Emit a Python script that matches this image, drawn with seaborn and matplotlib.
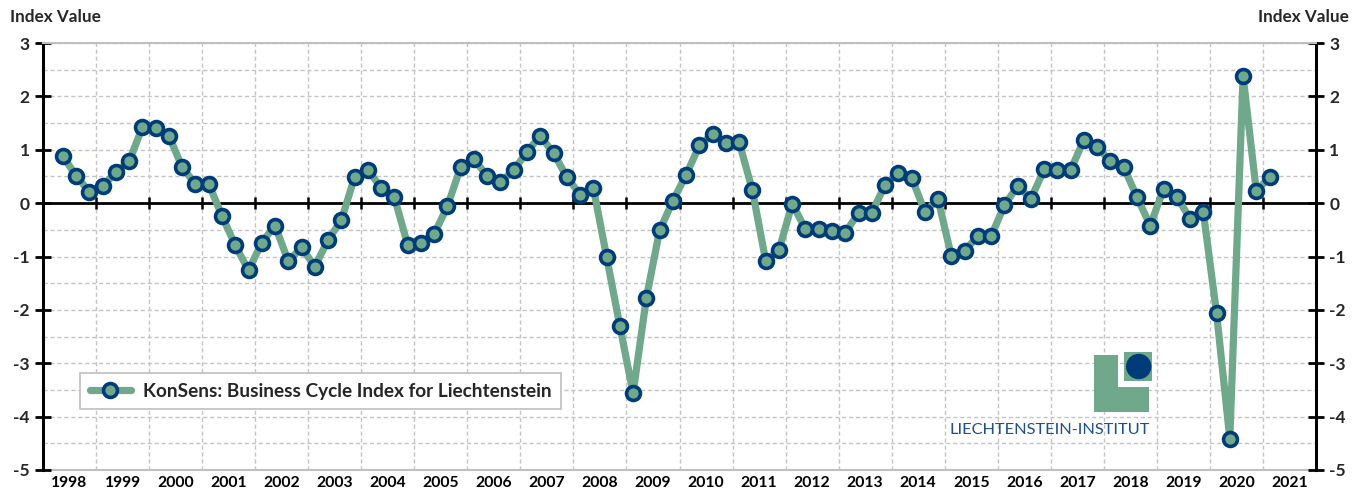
import matplotlib
matplotlib.use("Agg")
import matplotlib.pyplot as plt
from matplotlib.patches import Polygon, Rectangle, Ellipse
from matplotlib.ticker import MultipleLocator, FixedLocator, NullFormatter
import numpy as np
import pandas as pd
import seaborn as sns

# quarterly KonSens index, 1998 Q2 .. 2021 Q1
first_quarter = "1998Q2"
last_quarter = "2021Q1"
konsens = [
    0.88, 0.51, 0.21, 0.32, 0.58, 0.78, 1.43, 1.40, 1.26, 0.67,
    0.36, 0.36, -0.24, -0.79, -1.26, -0.74, -0.42, -1.09, -0.83, -1.19,
    -0.69, -0.32, 0.49, 0.62, 0.29, 0.11, -0.78, -0.74, -0.58, -0.06,
    0.68, 0.82, 0.51, 0.39, 0.62, 0.96, 1.26, 0.94, 0.49, 0.16,
    0.29, -1.00, -2.30, -3.56, -1.78, -0.51, 0.04, 0.53, 1.08, 1.29,
    1.13, 1.14, 0.24, -1.08, -0.88, -0.01, -0.49, -0.49, -0.52, -0.56,
    -0.18, -0.18, 0.34, 0.57, 0.48, -0.16, 0.07, -0.99, -0.89, -0.62,
    -0.62, -0.04, 0.32, 0.08, 0.63, 0.62, 0.62, 1.19, 1.06, 0.78,
    0.68, 0.11, -0.42, 0.26, 0.12, -0.29, -0.16, -2.06, -4.41, 2.38,
    0.22, 0.49,
]
years = list(range(1998, 2022))
series_label = "KonSens: Business Cycle Index for Liechtenstein"
axis_label = "Index Value"
logo_text = "LIECHTENSTEIN-INSTITUT"

green = "#6FA88B"
navy = "#003B7A"
grid_c = "#C4C4C4"

periods = pd.period_range(first_quarter, last_quarter, freq="Q")
df = pd.DataFrame({
    "t": periods.year + (periods.quarter - 0.5) / 4,
    "value": konsens,
})

sns.set_theme(style="white")
plt.rcParams["font.family"] = ["Lato", "DejaVu Sans"]
plt.rcParams["axes.unicode_minus"] = False

W, H = 1363, 496
fig = plt.figure(figsize=(W / 100, H / 100), dpi=100)
ax = fig.add_axes([43 / W, 1 - 470 / H, (1316 - 43) / W, (470 - 43) / H])

sns.lineplot(data=df, x="t", y="value", ax=ax, color=green, linewidth=5.2,
             marker="o", markersize=10, markerfacecolor=green,
             markeredgecolor=navy, markeredgewidth=2.6, label=series_label,
             zorder=5)

ax.set_xlim(years[0], years[-1] + 1)
ax.set_ylim(-5, 3)
ax.set_xlabel("")
ax.set_ylabel("")

# grid
ax.xaxis.set_major_locator(FixedLocator(years[1:]))
ax.yaxis.set_major_locator(MultipleLocator(1))
ax.yaxis.set_minor_locator(MultipleLocator(0.5))
ax.grid(True, which="major", axis="x", color=grid_c, linestyle=(0, (3, 2)), linewidth=1)
ax.grid(True, which="both", axis="y", color=grid_c, linestyle=(0, (3, 2)), linewidth=1)
ax.set_axisbelow(True)

# zero line carries the x ticks
ax.spines["bottom"].set_position(("data", 0))
ax.spines["bottom"].set_color("black")
ax.spines["bottom"].set_linewidth(2)
ax.spines["bottom"].set_zorder(3)
ax.tick_params(axis="x", which="major", bottom=True, direction="inout", length=9,
               width=1.8, color="black", labelbottom=False)
ax.xaxis.set_major_formatter(NullFormatter())

for side in ["left", "right"]:
    ax.spines[side].set_color("black")
    ax.spines[side].set_linewidth(2.2)
ax.spines["top"].set_color("#BFBFBF")
ax.spines["top"].set_linewidth(1.5)

ax.tick_params(axis="y", which="major", left=True, right=True, labelleft=True,
               labelright=True, direction="inout", length=11, width=2,
               color="black", labelsize=12.5, pad=4)
ax.tick_params(axis="y", which="minor", left=False, right=False)
ax.set_yticks(range(-5, 4))
for lbl in ax.get_yticklabels(which="major"):
    lbl.set_fontweight("bold")

# year labels along the bottom
sec = ax.secondary_xaxis("bottom")
sec.spines["bottom"].set_color("#BFBFBF")
sec.spines["bottom"].set_linewidth(1.5)
sec.set_xticks([y + 0.5 for y in years])
sec.set_xticklabels([str(y) for y in years], fontweight="bold", fontsize=11.3)
sec.tick_params(axis="x", length=0, pad=4, colors="black")

fig.text(10 / W, 1 - 17 / H, axis_label, fontsize=12.3, fontweight="bold",
         ha="left", va="center")
fig.text(1349 / W, 1 - 17 / H, axis_label, fontsize=12.3, fontweight="bold",
         ha="right", va="center")

leg = ax.legend(loc="upper left", bbox_to_anchor=(80 / W, 1 - 373 / H),
                bbox_transform=fig.transFigure, borderaxespad=0, frameon=True,
                fancybox=False, framealpha=1, edgecolor="#BFBFBF",
                prop={"weight": "bold", "size": 13.7}, handlelength=2.2,
                borderpad=0.5, handletextpad=0.6)
leg.get_frame().set_linewidth(1.2)

# logo
def fx(px):
    return px / W

def fy(py):
    return 1 - py / H

L_shape = [(1094, 355), (1118, 355), (1118, 387), (1149, 387), (1149, 412), (1094, 412)]
fig.patches.append(Polygon([(fx(a), fy(b)) for a, b in L_shape], closed=True,
                           facecolor=green, edgecolor="none", transform=fig.transFigure))
fig.patches.append(Rectangle((fx(1124), fy(381)), (1152 - 1124) / W, (381 - 352) / H,
                             facecolor=green, edgecolor="none", transform=fig.transFigure))
fig.patches.append(Ellipse((fx(1138.7), fy(366.5)), 25.4 / W, 25.4 / H, facecolor=navy,
                           edgecolor="none", transform=fig.transFigure))
fig.text(fx(1150), fy(430), logo_text, fontsize=11.8, color="#1F4E8C",
         ha="right", va="center")

fig.savefig("out.png", dpi=100)
